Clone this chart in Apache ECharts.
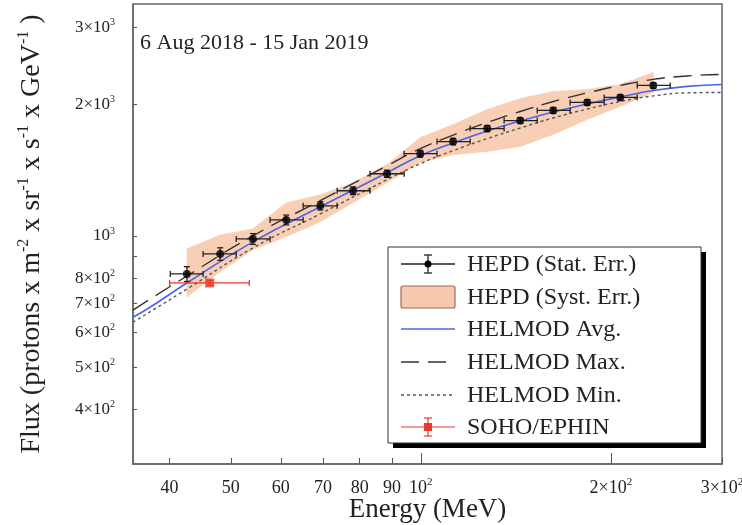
<!DOCTYPE html>
<html>
<head>
<meta charset="utf-8">
<script src="https://cdn.jsdelivr.net/npm/echarts@6/dist/echarts.min.js"></script>
<style>
  html, body { margin: 0; padding: 0; background: #fff; }
  #main { width: 742px; height: 525px; }
</style>
</head>
<body>
<div id="main"></div>
<script>
// HEPD points (MeV, flux)
var hepdE = [42.6, 48.1, 54.2, 61.2, 69.3, 78.1, 88.4, 99.8, 112.5, 127.4, 143.7, 162.1, 183.5, 207.0, 233.5];
var hepdLo = [40.1, 45.2, 51.0, 57.7, 65.1, 73.7, 83.1, 94.1, 106.1, 119.7, 135.5, 152.9, 172.4, 195.2, 220.2];
var hepdHi = [45.2, 51.0, 57.7, 65.1, 73.7, 83.1, 94.1, 106.1, 119.7, 135.5, 152.9, 172.4, 195.2, 220.2, 248.4];
var hepdF = [818, 909, 984, 1088, 1172, 1269, 1388, 1543, 1645, 1762, 1838, 1939, 2022, 2076, 2212];
var hepdStat = [32, 30, 28, 28, 26, 26, 26, 28, 28, 28, 28, 30, 30, 30, 32];
var systLow = [724, 827, 929, 995, 1077, 1191, 1324, 1472, 1535, 1560, 1602, 1707, 1848, 1980, 2132];
var systHigh = [934, 1005, 1038, 1191, 1242, 1324, 1457, 1680, 1800, 1949, 2065, 2143, 2166, 2224, 2370];

// HELMOD curves
var modE = [35, 37.3, 42.6, 54.2, 69.3, 88.4, 99.8, 112.5, 127.4, 143.7, 162.1, 183.5, 207.0, 233.5, 264.3, 300];
var modAvg = [651, 687, 780, 969, 1166, 1396, 1527, 1632, 1739, 1833, 1922, 2006, 2082, 2154, 2201, 2224];
var modMaxE = [35, 42.6, 54.2, 69.3, 88.4, 99.8, 112.5, 127.4, 143.7, 162.1, 183.5, 207.0, 233.5, 264.3, 300];
var modMax = [676, 809, 1000, 1204, 1448, 1585, 1702, 1819, 1928, 2032, 2127, 2212, 2284, 2326, 2345];
var modMin = [634, 755, 938, 1123, 1345, 1464, 1568, 1671, 1767, 1863, 1953, 2032, 2093, 2127, 2132];

// SOHO/EPHIN
var sohoE = [46.3];
var sohoLo = [40.0];
var sohoHi = [53.5];
var sohoF = [780];
var sohoErr = [10];

var xTicks = [40, 50, 60, 70, 80, 90, 100, 200, 300];
var xTicksLong = [100, 200];
var yTicks = [400, 500, 600, 700, 800, 900, 1000, 2000, 3000];
var yLabels = {400: '4×10{s|2}', 500: '5×10{s|2}', 600: '6×10{s|2}', 700: '7×10{s|2}', 800: '8×10{s|2}',
  1000: '10{s|3}', 2000: '2×10{s|3}', 3000: '3×10{s|3}'};
var xLabels = {100: '10{s|2}', 200: '2×10{s|2}', 300: '3×10{s|2}'};

var serif = 'Liberation Serif';

function errRender(color) {
  return function (params, api) {
    var l = api.coord([api.value(2), api.value(1)]);
    var r = api.coord([api.value(3), api.value(1)]);
    var b = api.coord([api.value(0), api.value(4)]);
    var t = api.coord([api.value(0), api.value(5)]);
    var cap = 3;
    var st = { stroke: color, lineWidth: 1.3 };
    return {
      type: 'group',
      children: [
        { type: 'line', shape: { x1: l[0], y1: l[1], x2: r[0], y2: r[1] }, style: st },
        { type: 'line', shape: { x1: l[0], y1: l[1] - cap, x2: l[0], y2: l[1] + cap }, style: st },
        { type: 'line', shape: { x1: r[0], y1: r[1] - cap, x2: r[0], y2: r[1] + cap }, style: st },
        { type: 'line', shape: { x1: b[0], y1: b[1], x2: t[0], y2: t[1] }, style: st },
        { type: 'line', shape: { x1: b[0] - cap, y1: b[1], x2: b[0] + cap, y2: b[1] }, style: st },
        { type: 'line', shape: { x1: t[0] - cap, y1: t[1], x2: t[0] + cap, y2: t[1] }, style: st }
      ]
    };
  };
}

function bandRender(params, api) {
  if (params.dataIndex !== 0) return;
  var pts = [];
  for (var i = 0; i < hepdE.length; i++) pts.push(api.coord([hepdE[i], systHigh[i]]));
  for (var j = hepdE.length - 1; j >= 0; j--) pts.push(api.coord([hepdE[j], systLow[j]]));
  return {
    type: 'polygon',
    shape: { points: pts },
    style: { fill: '#f7c9ad', stroke: '#f7c9ad', lineWidth: 0.5, opacity: 0.9 }
  };
}

var hepdErrData = hepdE.map(function (e, i) {
  return [e, hepdF[i], hepdLo[i], hepdHi[i], hepdF[i] - hepdStat[i], hepdF[i] + hepdStat[i]];
});
var sohoErrData = sohoE.map(function (e, i) {
  return [e, sohoF[i], sohoLo[i], sohoHi[i], sohoF[i] - sohoErr[i], sohoF[i] + sohoErr[i]];
});

// legend drawn by hand (ROOT style box with shadow)
var lgX = 388, lgY = 247, lgW = 313, lgH = 196;
var rowY = [264, 297, 329, 362, 395, 427];
var legendNames = ['HEPD (Stat. Err.)', 'HEPD (Syst. Err.)', 'HELMOD Avg.', 'HELMOD Max.', 'HELMOD Min.', 'SOHO/EPHIN'];
var legendItems = [
  { type: 'rect', shape: { x: lgX + 5, y: lgY + 5, width: lgW, height: lgH }, style: { fill: '#000' } },
  { type: 'rect', shape: { x: lgX, y: lgY, width: lgW, height: lgH }, style: { fill: '#fff', stroke: '#333', lineWidth: 1 } },
  // stat err
  { type: 'line', shape: { x1: 401, y1: rowY[0], x2: 455, y2: rowY[0] }, style: { stroke: '#222', lineWidth: 1.3 } },
  { type: 'line', shape: { x1: 428, y1: rowY[0] - 9, x2: 428, y2: rowY[0] + 9 }, style: { stroke: '#222', lineWidth: 1.3 } },
  { type: 'line', shape: { x1: 424, y1: rowY[0] - 9, x2: 432, y2: rowY[0] - 9 }, style: { stroke: '#222', lineWidth: 1.3 } },
  { type: 'line', shape: { x1: 424, y1: rowY[0] + 9, x2: 432, y2: rowY[0] + 9 }, style: { stroke: '#222', lineWidth: 1.3 } },
  { type: 'circle', shape: { cx: 428, cy: rowY[0], r: 3.5 }, style: { fill: '#000' } },
  // syst err
  { type: 'rect', shape: { x: 401, y: rowY[1] - 11, width: 54, height: 22, r: 2 }, style: { fill: '#f8c8ae', stroke: '#9a6a55', lineWidth: 1.2 } },
  // avg
  { type: 'line', shape: { x1: 401, y1: rowY[2], x2: 455, y2: rowY[2] }, style: { stroke: '#4a66e8', lineWidth: 1.5 } },
  // max
  { type: 'line', shape: { x1: 401, y1: rowY[3], x2: 455, y2: rowY[3] }, style: { stroke: '#333', lineWidth: 1.3, lineDash: [18, 9] } },
  // min
  { type: 'line', shape: { x1: 401, y1: rowY[4], x2: 455, y2: rowY[4] }, style: { stroke: '#555', lineWidth: 1.3, lineDash: [3, 3] } },
  // soho
  { type: 'line', shape: { x1: 401, y1: rowY[5], x2: 455, y2: rowY[5] }, style: { stroke: '#e8392e', lineWidth: 1.2 } },
  { type: 'line', shape: { x1: 428, y1: rowY[5] - 9, x2: 428, y2: rowY[5] + 9 }, style: { stroke: '#e8392e', lineWidth: 1.2 } },
  { type: 'line', shape: { x1: 424, y1: rowY[5] - 9, x2: 432, y2: rowY[5] - 9 }, style: { stroke: '#e8392e', lineWidth: 1.2 } },
  { type: 'line', shape: { x1: 424, y1: rowY[5] + 9, x2: 432, y2: rowY[5] + 9 }, style: { stroke: '#e8392e', lineWidth: 1.2 } },
  { type: 'rect', shape: { x: 424, y: rowY[5] - 4, width: 8, height: 8 }, style: { fill: '#e8392e' } }
];
legendNames.forEach(function (n, i) {
  legendItems.push({
    type: 'text', x: 467, y: rowY[i] + 1,
    style: { text: n, font: '24px "' + serif + '"', fill: '#222', textVerticalAlign: 'middle' }
  });
});
legendItems.push({
  type: 'text', x: 140, y: 43,
  style: { text: '6 Aug 2018 - 15 Jan 2019', font: '22px "' + serif + '"', fill: '#222', textVerticalAlign: 'middle' }
});

var chart = echarts.init(document.getElementById('main'));
chart.setOption({
  animation: false,
  grid: { left: 133, right: 20, top: 4, bottom: 61, outerBoundsMode: 'none', containLabel: false,
    show: true, borderColor: '#666', borderWidth: 1.5 },
  xAxis: [{
    type: 'log', logBase: 10, min: 35, max: 300,
    name: 'Energy (MeV)', nameLocation: 'middle', nameGap: 32, nameMoveOverlap: false,
    nameTextStyle: { fontFamily: serif, fontSize: 27, color: '#222' },
    axisLine: { lineStyle: { color: '#666', width: 1.5 } },
    axisTick: { inside: true, length: 6, customValues: xTicks, lineStyle: { color: '#555' } },
    axisLabel: {
      customValues: xTicks, margin: 13, fontFamily: serif, fontSize: 18, color: '#222', lineHeight: 22,
      formatter: function (v) { return xLabels[v] || String(v); },
      rich: { s: { fontSize: 11, lineHeight: 11, verticalAlign: 'top', fontFamily: serif } }
    },
    splitLine: { show: false }, minorTick: { show: false }
  }, {
    type: 'log', logBase: 10, min: 35, max: 300, position: 'bottom',
    axisLine: { show: false },
    axisTick: { inside: true, length: 11, customValues: xTicksLong, lineStyle: { color: '#555' } },
    axisLabel: { show: false }, splitLine: { show: false }
  }],
  yAxis: {
    type: 'log', logBase: 10, min: 300, max: 3400,
    name: 'Flux (protons x m{s|-2} x sr{s|-1} x s{s|-1} x GeV{s|-1} )',
    nameLocation: 'middle', nameGap: 85, nameRotate: 90, nameMoveOverlap: false,
    nameTextStyle: {
      fontFamily: serif, fontSize: 28, color: '#222', lineHeight: 32,
      rich: { s: { fontSize: 16, lineHeight: 16, verticalAlign: 'top', fontFamily: serif } }
    },
    axisLine: { lineStyle: { color: '#666', width: 1.5 } },
    axisTick: { inside: true, length: 4, customValues: yTicks, lineStyle: { color: '#555' } },
    axisLabel: {
      customValues: yTicks, margin: 18, fontFamily: serif, fontSize: 17, color: '#222', lineHeight: 20,
      formatter: function (v) { return yLabels[v] || ''; },
      rich: { s: { fontSize: 10, lineHeight: 10, verticalAlign: 'top', fontFamily: serif } }
    },
    splitLine: { show: false }
  },
  graphic: legendItems,
  series: [
    { type: 'custom', name: 'HEPD (Syst. Err.)', renderItem: bandRender, data: hepdE.map(function (e, i) { return [e, hepdF[i]]; }), z: 1, silent: true },
    { type: 'line', name: 'HELMOD Avg.', data: modE.map(function (e, i) { return [e, modAvg[i]]; }), smooth: 0.5, showSymbol: false, lineStyle: { color: '#4a66e8', width: 1.6 }, z: 2 },
    { type: 'line', name: 'HELMOD Max.', data: modMaxE.map(function (e, i) { return [e, modMax[i]]; }), smooth: 0.5, showSymbol: false, lineStyle: { color: '#333', width: 1.4, type: [18, 9] }, z: 2 },
    { type: 'line', name: 'HELMOD Min.', data: modMaxE.map(function (e, i) { return [e, modMin[i]]; }), smooth: 0.5, showSymbol: false, lineStyle: { color: '#555', width: 1.4, type: [3, 3] }, z: 2 },
    { type: 'custom', name: 'HEPD (Stat. Err.)', renderItem: errRender('#222'), data: hepdErrData, z: 3 },
    { type: 'scatter', name: 'HEPD', data: hepdE.map(function (e, i) { return [e, hepdF[i]]; }), symbol: 'circle', symbolSize: 8, itemStyle: { color: '#000' }, z: 4 },
    { type: 'custom', name: 'SOHO/EPHIN err', renderItem: errRender('#e8392e'), data: sohoErrData, z: 3 },
    { type: 'scatter', name: 'SOHO/EPHIN', data: sohoE.map(function (e, i) { return [e, sohoF[i]]; }), symbol: 'rect', symbolSize: 9, itemStyle: { color: '#e8392e' }, z: 4 }
  ]
});
</script>
</body>
</html>
